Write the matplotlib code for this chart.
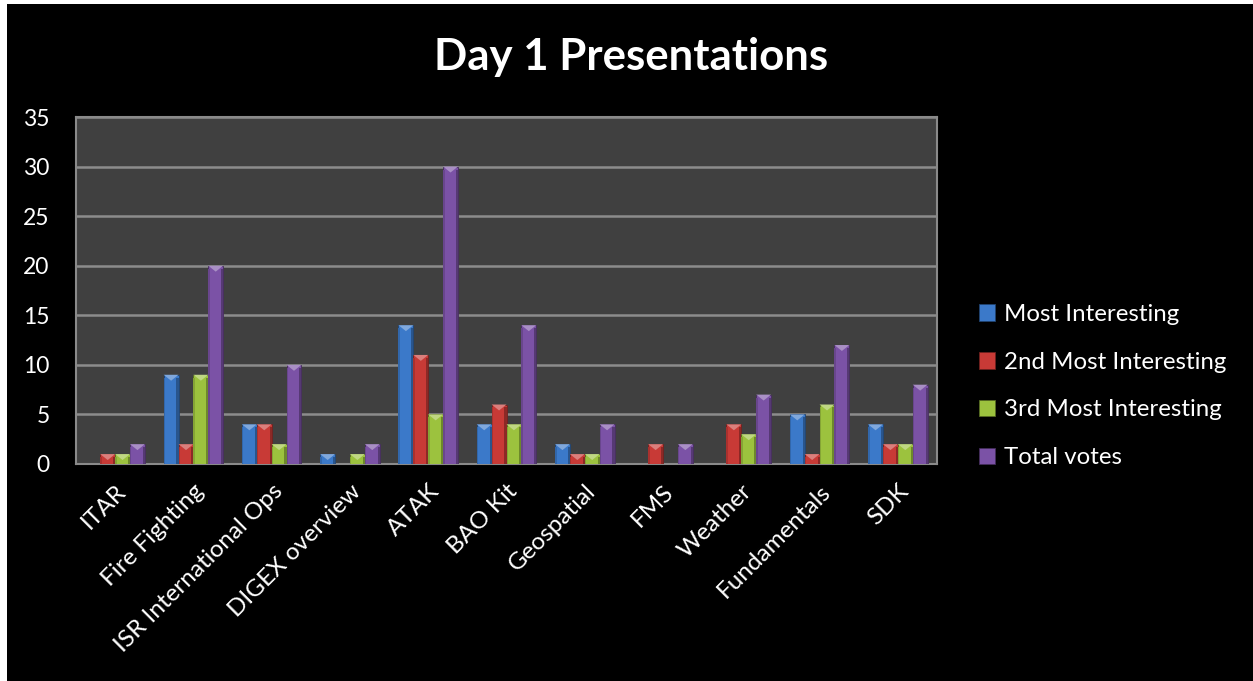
import matplotlib
matplotlib.use("Agg")
import matplotlib.pyplot as plt
import numpy as np
from matplotlib.patches import Polygon, Rectangle
from matplotlib.colors import to_rgb

categories = ["ITAR", "Fire Fighting", "ISR International Ops", "DIGEX overview",
              "ATAK", "BAO Kit", "Geospatial", "FMS", "Weather", "Fundamentals", "SDK"]
most = [0, 9, 4, 1, 14, 4, 2, 0, 0, 5, 4]
second = [1, 2, 4, 0, 11, 6, 1, 2, 4, 1, 2]
third = [1, 9, 2, 1, 5, 4, 1, 0, 3, 6, 2]
total = [2, 20, 10, 2, 30, 14, 4, 2, 7, 12, 8]

series = [
    ("Most Interesting", most, "#3b79c9"),
    ("2nd Most Interesting", second, "#c83a36"),
    ("3rd Most Interesting", third, "#9cc23e"),
    ("Total votes", total, "#7b52a6"),
]

FONT = ["Lato", "DejaVu Sans"]
plt.rcParams["font.family"] = FONT


def shade(c, f):
    r = np.array(to_rgb(c))
    if f > 0:
        return tuple(r + (1 - r) * f)
    return tuple(r * (1 + f))


fig = plt.figure(figsize=(12.53, 6.81), dpi=100, facecolor="black")
# thin white margin at top and left of the slide
fig.patches.append(Rectangle((0, 0), 7 / 1253, 1, transform=fig.transFigure,
                             facecolor="white", edgecolor="none", zorder=-5))
fig.patches.append(Rectangle((0, 1 - 4 / 681), 1, 4 / 681, transform=fig.transFigure,
                             facecolor="white", edgecolor="none", zorder=-5))

ax = fig.add_axes([76 / 1253, (681 - 464) / 681, (937 - 76) / 1253, (464 - 117) / 681])
ax.set_facecolor("#404040")
for s in ax.spines.values():
    s.set_color("#8a8a8a")
    s.set_linewidth(1.5)

x = np.arange(len(categories))
w = 0.19
chev = 0.6
for i, (name, vals, col) in enumerate(series):
    off = (i - 1.5) * w
    bars = ax.bar(x + off, vals, width=w, color=col, edgecolor=shade(col, -0.45),
                  linewidth=0.6, label=name, zorder=3)
    for b, v in zip(bars, vals):
        if v <= 0:
            continue
        x0 = b.get_x()
        x1 = x0 + b.get_width()
        h = min(chev, v)
        ax.add_patch(Polygon([(x0, v), (x1, v), ((x0 + x1) / 2, v - h)],
                             closed=True, facecolor=shade(col, 0.35),
                             edgecolor="none", zorder=4))
        ax.add_patch(Rectangle((x1 - w * 0.14, 0), w * 0.14, v - h * 0.5,
                               facecolor=shade(col, -0.3), edgecolor="none",
                               zorder=4))
        ax.add_patch(Rectangle((x0, 0), w * 0.1, v - h * 0.5,
                               facecolor=shade(col, -0.15), edgecolor="none",
                               zorder=4))

ax.set_xlim(-0.5, len(categories) - 0.5)
ax.set_ylim(0, 35)
ax.set_yticks(range(0, 36, 5))
ax.yaxis.grid(True, color="#8c8c8c", linewidth=1.8, zorder=1)
ax.set_axisbelow(True)
ax.tick_params(axis="y", colors="white", labelsize=16.5, length=0, pad=19)
ax.tick_params(axis="x", colors="white", labelsize=17.5, length=0, pad=12)
ax.set_xticks(x)
ax.set_xticklabels(categories, rotation=45, ha="right", rotation_mode="anchor")

fig.text(631 / 1253, 1 - 57 / 681, "Day 1 Presentations", color="white",
         fontsize=31.5, fontweight="bold", ha="center", va="center")

leg = fig.legend(loc="center left", bbox_to_anchor=(957 / 1253, 1 - 386 / 681),
                 frameon=False, fontsize=17.3, labelcolor="white",
                 handlelength=0.7, handleheight=0.7, handletextpad=0.35,
                 labelspacing=1.12)

fig.savefig("out.png", dpi=100, facecolor=fig.get_facecolor())
